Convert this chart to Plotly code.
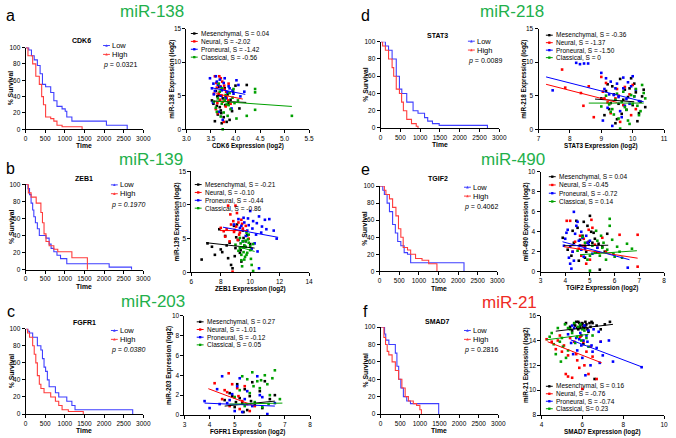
import plotly.graph_objects as go

W, H = 676, 438
FONT = "Liberation Sans, Arial, sans-serif"
KM_BLUE = "#3f3fff"
KM_RED = "#ff3c3c"
GROUP_COLORS = ["#000000", "#ff0000", "#0000ff", "#00a000"]
TITLE_GREEN = "#22b04b"
TITLE_RED = "#ee2a24"

# ---------------- Kaplan-Meier data (time, % survival) ----------------
A_LOW_T = [0, 80, 150, 220, 300, 370, 430, 510, 640, 720, 800, 930, 1010, 1050, 1180, 2060, 2590]
A_LOW_S = [100, 97, 90, 85, 78, 68, 55, 52, 45, 35, 28, 25, 22, 15, 10, 5, 0]
A_HIGH_T = [0, 60, 180, 260, 350, 410, 455, 510, 640, 720, 800, 930, 1440]
A_HIGH_S = [100, 90, 80, 65, 55, 40, 30, 15, 13, 10, 5, 3, 0]

B_LOW_T = [0, 60, 100, 140, 180, 210, 250, 300, 350, 520, 600, 650, 720, 800, 890, 1050, 2130, 2700]
B_LOW_S = [100, 95, 88, 78, 70, 62, 55, 48, 40, 37, 30, 25, 21, 17, 13, 7, 3, 0]
B_HIGH_T = [0, 70, 140, 270, 390, 430, 470, 520, 600, 720, 820, 1180, 1575]
B_HIGH_S = [100, 90, 85, 78, 67, 55, 42, 33, 28, 24, 21, 14, 0]

C_LOW_T = [0, 60, 100, 180, 300, 390, 430, 470, 510, 555, 600, 760, 845, 1050, 1180, 1260, 2730]
C_LOW_S = [100, 97, 95, 90, 80, 75, 65, 55, 50, 40, 32, 25, 20, 15, 10, 5, 0]
C_HIGH_T = [0, 50, 100, 180, 220, 260, 300, 350, 390, 470, 640, 760, 845, 930, 1090, 1470]
C_HIGH_S = [100, 95, 90, 80, 70, 60, 45, 35, 30, 25, 20, 15, 10, 5, 3, 0]

D_LOW_T = [0, 120, 200, 290, 395, 475, 535, 660, 820, 945, 1110, 1190, 1310, 1480, 2700]
D_LOW_S = [100, 95, 90, 80, 60, 45, 40, 30, 20, 17, 12, 8, 5, 3, 0]
D_HIGH_T = [0, 50, 120, 200, 290, 330, 395, 475, 530, 575, 660, 780, 900, 945]
D_HIGH_S = [100, 95, 90, 80, 70, 60, 45, 40, 30, 20, 10, 5, 2, 0]

E_LOW_T = [0, 80, 120, 190, 250, 330, 400, 460, 540, 625, 710, 790, 2150]
E_LOW_S = [100, 95, 90, 80, 70, 55, 45, 35, 30, 22, 20, 10, 0]
E_HIGH_T = [0, 120, 160, 250, 330, 415, 480, 540, 600, 710, 790, 915, 1080, 1250, 1460]
E_HIGH_S = [100, 95, 90, 85, 75, 65, 50, 40, 28, 25, 20, 15, 13, 9, 0]

F_LOW_T = [0, 100, 130, 210, 375, 415, 460, 515, 580, 665, 760, 1480]
F_LOW_S = [100, 92, 85, 80, 70, 55, 40, 30, 20, 15, 12, 0]
F_HIGH_T = [0, 83, 125, 167, 208, 292, 375, 458, 542, 625, 708, 833, 917, 1000, 1040]
F_HIGH_S = [100, 88, 80, 72, 68, 60, 50, 40, 30, 20, 15, 12, 10, 5, 0]

KM_GENES = ["CDK6", "ZEB1", "FGFR1", "STAT3", "TGIF2", "SMAD7"]
KM_PVALUES = ["0.0321", "0.1970", "0.0380", "0.0089", "0.4062", "0.2816"]
KM_P_ALL_ITALIC = [False, True, True, False, False, False]

# ---------------- Scatter data ----------------
GROUP_NAMES = ["Mesenchymal", "Neural", "Proneural", "Classical"]

# panel a : CDK6 vs miR-138
A_MES_X = [3.52, 3.58, 3.62, 3.66, 3.70, 3.74, 3.78, 3.82, 3.86, 3.90, 3.95, 4.00, 4.08, 4.23, 3.64, 3.72, 3.80, 3.60, 3.68, 3.88,
           3.55, 3.63, 3.71, 3.79, 3.84, 3.93, 3.67, 3.76]
A_MES_Y = [4.3, 1.2, 3.5, 5.1, 2.8, 4.6, 6.1, 1.1, 3.9, 4.4, 5.6, 6.5, 3.1, 6.6, 2.2, 0.9, 4.8, 5.7, 3.3, 1.4,
           3.8, 4.9, 2.4, 3.6, 5.2, 2.7, 6.3, 1.8]
A_NEU_X = [3.58, 3.62, 3.66, 3.70, 3.74, 3.60, 3.78, 3.82, 3.86, 3.64, 3.72, 3.90, 3.68, 3.76, 3.56, 3.80,
           3.61, 3.69, 3.73, 3.81, 3.85, 3.63, 3.77, 3.67]
A_NEU_Y = [7.9, 6.2, 5.4, 7.6, 4.1, 3.0, 5.9, 4.7, 6.8, 2.4, 5.0, 3.8, 4.4, 1.1, 5.3, 3.4,
           6.9, 6.4, 7.1, 5.6, 4.3, 3.9, 6.5, 7.9]
A_PRO_X = [3.48, 3.52, 3.56, 3.60, 3.64, 3.68, 3.72, 3.76, 3.80, 3.84, 3.88, 3.92, 3.96, 4.02, 4.10, 4.18, 3.54, 3.66, 3.74, 3.70,
           3.55, 3.62, 3.70, 3.78, 3.86, 3.94, 4.06, 3.58]
A_PRO_Y = [7.6, 6.1, 5.2, 7.9, 6.6, 7.4, 5.8, 6.9, 4.6, 5.5, 6.1, 3.1, 5.3, 7.3, 4.9, 5.6, 4.0, 2.6, 1.4, 5.0,
           6.8, 7.1, 6.3, 7.6, 6.4, 5.8, 6.6, 5.7]
A_CLA_X = [3.56, 3.62, 3.68, 3.72, 3.78, 3.84, 3.90, 3.96, 4.02, 3.74, 3.66, 3.80, 4.23, 4.40, 4.40, 4.40, 5.15, 3.86, 3.94, 3.70,
           3.60, 3.64, 3.76, 3.82, 3.88, 3.98, 4.05, 3.72]
A_CLA_Y = [4.1, 2.6, 5.6, 3.8, 4.4, 2.0, 3.0, 6.0, 1.6, 0.0, 6.8, 5.1, 2.0, 6.0, 5.5, 2.9, 2.0, 3.6, 4.7, 1.9,
           3.2, 4.6, 2.5, 3.7, 5.4, 3.9, 4.3, 6.1]
A_FIT_X = [[3.55, 4.22], [3.60, 4.15], [3.50, 4.20], [3.60, 5.15]]
A_FIT_Y = [[4.2, 4.0], [5.3, 4.5], [6.2, 5.2], [4.2, 3.4]]
A_S = ["0.04", "-2.02", "-1.42", "-0.56"]

# panel b : ZEB1 vs miR-139
B_MES_X = [6.7, 7.1, 7.6, 8.0, 8.3, 8.5, 8.7, 8.9, 9.0, 9.2, 9.3, 9.5, 9.6, 9.8, 10.0, 8.8, 9.1, 8.4, 9.4, 7.9,
           8.1, 8.6, 9.05, 9.35, 9.7, 8.95, 9.55, 7.4]
B_MES_Y = [1.9, 4.3, 2.6, 3.4, 5.4, 2.1, 1.1, 6.9, 3.6, 4.8, 2.9, 6.2, 3.9, 5.5, 4.2, 0.6, 7.1, 4.0, 1.6, 6.4,
           3.0, 4.4, 5.2, 3.3, 4.6, 2.4, 5.1, 3.8]
B_NEU_X = [8.0, 8.3, 8.5, 8.7, 8.9, 9.0, 9.1, 9.2, 9.3, 9.5, 9.7, 8.6, 8.8, 9.4, 8.2, 9.9,
           8.4, 8.65, 8.85, 9.05, 9.25, 9.45, 8.95, 9.15]
B_NEU_Y = [6.6, 5.3, 9.9, 7.1, 6.0, 9.9, 8.8, 7.4, 5.9, 6.5, 6.9, 4.6, 0.1, 7.8, 6.1, 5.0,
           6.4, 8.6, 7.6, 6.8, 5.6, 7.2, 6.3, 4.8]
B_PRO_X = [8.9, 9.2, 9.4, 9.6, 9.8, 10.0, 10.2, 10.4, 10.6, 10.8, 11.0, 11.3, 11.6, 11.8, 9.7, 10.1, 10.5, 9.5, 10.3, 10.6,
           9.3, 9.55, 9.9, 10.15, 10.45, 10.75, 11.1, 9.85]
B_PRO_Y = [7.1, 7.9, 6.9, 7.4, 6.2, 9.1, 7.6, 5.6, 8.3, 6.8, 7.8, 7.9, 6.2, 5.0, 5.4, 3.5, 3.1, 4.6, 4.3, 0.6,
           6.6, 8.1, 7.0, 6.5, 7.3, 5.9, 6.4, 8.0]
B_CLA_X = [9.0, 9.2, 9.3, 9.4, 9.5, 9.6, 9.7, 9.8, 9.9, 10.0, 10.1, 10.2, 9.45, 9.65, 9.85, 10.05, 9.3, 9.55, 10.2, 9.75,
           9.35, 9.5, 9.6, 9.75, 9.9, 10.0, 9.4, 9.7]
B_CLA_Y = [4.1, 3.2, 5.1, 2.6, 4.6, 1.9, 3.8, 2.9, 5.6, 3.3, 1.1, 4.2, 0.9, 2.3, 4.9, 2.0, 3.6, 3.0, 0.2, 5.9,
           4.3, 3.7, 4.0, 2.6, 4.4, 3.9, 1.8, 4.7]
B_FIT_X = [[7.0, 10.3], [7.95, 9.8], [8.15, 11.9], [9.2, 10.3]]
B_FIT_Y = [[4.4, 3.6], [6.2, 6.2], [6.7, 5.2], [3.8, 3.1]]
B_S = ["-0.21", "-0.10", "-0.44", "-0.86"]

# panel c : FGFR1 vs miR-203
C_MES_X = [4.6, 4.8, 5.0, 5.1, 5.2, 5.3, 5.4, 5.5, 5.6, 5.7, 5.8, 6.0, 6.2, 6.4, 6.6, 5.05, 5.35, 5.65, 4.9, 6.1]
C_MES_Y = [1.5, 2.2, 0.8, 3.1, 1.7, 1.2, 2.6, 0.5, 1.9, 3.3, 1.0, 2.4, 3.4, 1.6, 2.0, 1.3, 0.3, 1.4, 1.9, 0.7]
C_NEU_X = [4.2, 4.5, 4.7, 4.8, 4.9, 5.0, 5.1, 5.2, 5.3, 5.4, 5.5, 5.6, 4.76, 5.15, 5.8, 4.6]
C_NEU_Y = [3.2, 1.6, 2.3, 0.9, 3.1, 1.8, 2.7, 0.6, 1.4, 2.9, 1.1, 0.4, 4.2, 1.9, 0.9, 2.5]
C_PRO_X = [3.8, 4.0, 4.3, 4.5, 4.7, 4.9, 5.0, 5.2, 5.4, 5.5, 5.7, 5.9, 6.1, 6.3, 6.6, 4.8, 5.1, 5.3, 6.0, 4.4]
C_PRO_Y = [1.4, 0.7, 2.6, 3.9, 1.2, 2.1, 0.4, 3.7, 1.6, 2.4, 0.9, 3.9, 1.8, 0.1, 1.2, 1.5, 2.9, 0.3, 2.0, 1.1]
C_CLA_X = [5.0, 5.2, 5.4, 5.5, 5.6, 5.7, 5.8, 5.9, 6.0, 6.1, 6.2, 6.3, 6.4, 6.5, 6.6, 6.8, 5.3, 5.75, 6.05, 6.35]
C_CLA_Y = [1.8, 2.5, 0.9, 3.6, 2.2, 4.3, 1.3, 3.4, 2.7, 0.8, 4.0, 3.1, 2.0, 3.7, 4.5, 1.6, 3.9, 2.9, 3.5, 1.1]
C_FIT_X = [[4.6, 6.6], [3.95, 5.8], [3.8, 6.6], [4.8, 6.9]]
C_FIT_Y = [[0.9, 1.4], [2.65, 0.9], [1.2, 0.9], [1.1, 1.2]]
C_S = ["0.27", "-1.01", "-0.12", "0.05"]

# panel d : STAT3 vs miR-218
D_MES_X = [9.0, 9.1, 9.2, 9.3, 9.4, 9.5, 9.6, 9.7, 9.8, 9.9, 10.0, 10.1, 10.2, 10.3, 10.4, 9.45, 9.75, 9.95, 10.15, 9.25,
           9.15, 9.55, 9.85, 10.05, 10.35, 9.65, 9.35, 10.25]
D_MES_Y = [4.6, 2.1, 6.7, 3.9, 5.2, 1.5, 7.5, 4.4, 2.9, 6.1, 3.6, 5.5, 2.4, 4.9, 3.3, 0.9, 5.9, 7.6, 1.2, 3.0,
           5.7, 3.8, 4.8, 6.8, 5.9, 2.3, 6.4, 4.1]
D_NEU_X = [7.75, 7.85, 8.35, 8.43, 8.6, 8.76, 9.0, 9.1, 9.3, 9.5, 9.7, 9.9, 10.0, 9.2, 9.6, 10.1,
           9.05, 9.45, 9.75, 9.95, 9.15, 9.55]
D_NEU_Y = [8.9, 6.2, 5.4, 3.5, 6.4, 1.8, 7.8, 4.6, 2.4, 6.0, 3.6, 5.2, 6.6, 4.0, 1.1, 3.0,
           5.6, 4.6, 6.3, 2.1, 6.9, 5.0]
D_PRO_X = [7.45, 8.2, 8.32, 8.45, 8.58, 9.0, 9.1, 9.2, 9.3, 9.4, 9.5, 9.6, 9.7, 9.8, 9.9, 10.0, 10.1, 10.2, 9.35, 9.65, 9.05, 9.75,
           9.15, 9.45, 9.55, 9.85, 9.95, 10.05, 9.25, 9.7]
D_PRO_Y = [5.8, 9.9, 9.7, 9.8, 9.8, 8.4, 6.0, 3.2, 7.1, 5.1, 6.8, 2.7, 7.7, 4.5, 3.8, 7.9, 5.9, 4.2, 0.5, 1.8, 1.3, 3.5,
           7.6, 6.1, 4.8, 7.0, 6.4, 4.9, 5.2, 6.1]
D_CLA_X = [9.0, 9.15, 9.3, 9.45, 9.55, 9.7, 9.8, 9.9, 10.0, 10.1, 10.2, 10.3, 10.4, 9.6, 9.85, 10.05, 9.35, 10.25,
           9.25, 9.5, 9.65, 9.75, 9.95, 10.15, 10.35, 9.4]
D_CLA_Y = [3.4, 5.0, 2.6, 4.4, 1.6, 5.6, 2.9, 0.8, 3.8, 6.0, 2.1, 6.6, 4.6, 0.1, 1.3, 4.9, 3.0, 2.7,
           3.7, 5.3, 4.1, 3.3, 5.1, 3.5, 5.4, 2.2]
D_FIT_X = [[8.8, 10.05], [7.24, 9.5], [7.24, 10.35], [8.6, 10.35]]
D_FIT_Y = [[4.5, 4.1], [6.7, 4.0], [7.8, 4.1], [3.9, 3.9]]
D_S = ["-0.36", "-1.37", "-1.50", "0"]

# panel e : TGIF2 vs miR-490
E_MES_X = [3.9, 4.1, 4.3, 4.45, 4.6, 4.7, 4.8, 4.9, 5.0, 5.1, 5.2, 5.3, 5.5, 5.7, 4.55, 4.85, 5.05, 4.25, 5.4, 4.75,
           4.35, 4.6, 4.8, 4.95, 5.15, 5.35, 4.5, 5.6]
E_MES_Y = [3.4, 2.2, 4.1, 5.1, 2.6, 3.6, 1.4, 4.6, 5.6, 2.9, 3.3, 1.9, 2.5, 3.8, 1.1, 2.0, 4.0, 1.6, 0.2, 5.0,
           2.9, 3.2, 2.6, 3.0, 3.9, 2.8, 4.4, 2.0]
E_NEU_X = [4.06, 4.2, 4.4, 4.55, 4.65, 4.75, 4.85, 4.95, 5.06, 5.2, 5.35, 5.5, 6.2, 6.93, 6.93, 4.8, 5.0, 5.65,
           4.3, 4.6, 4.9, 5.1, 4.7, 5.3]
E_NEU_Y = [5.1, 5.1, 3.0, 2.3, 1.6, 3.3, 0.8, 4.2, 5.2, 2.7, 1.9, 3.4, 3.7, 3.7, 0.5, 2.4, 1.2, 2.0,
           2.0, 3.6, 2.9, 4.4, 2.6, 2.4]
E_PRO_X = [3.95, 4.05, 4.15, 4.25, 4.35, 4.45, 4.55, 4.65, 4.75, 4.85, 4.95, 5.1, 5.3, 6.53, 4.2, 4.5, 4.7, 4.3, 4.9, 4.1,
           4.0, 4.2, 4.4, 4.6, 4.8, 5.0, 4.35, 4.65]
E_PRO_Y = [2.6, 3.9, 1.4, 0.3, 6.0, 4.6, 3.1, 2.2, 1.5, 3.6, 2.7, 1.8, 2.4, 0.4, 0.8, 5.0, 3.4, 2.0, 2.9, 4.2,
           3.3, 2.5, 3.8, 2.6, 2.3, 3.1, 1.1, 4.0]
E_CLA_X = [4.5, 4.7, 4.9, 5.1, 5.25, 5.4, 5.55, 5.7, 5.8, 5.8, 5.95, 6.1, 6.3, 6.5, 6.7, 5.0, 5.3, 6.0,
           4.8, 5.2, 5.45, 5.65, 5.9, 6.2, 5.0, 5.5]
E_CLA_Y = [2.1, 3.5, 1.2, 2.6, 4.1, 1.6, 2.9, 2.2, 5.3, 4.6, 1.8, 2.5, 1.4, 2.8, 2.3, 0.1, 3.1, 1.5,
           2.9, 1.9, 3.6, 1.2, 3.2, 2.0, 1.6, 2.4]
E_FIT_X = [[3.95, 5.74], [3.95, 6.93], [3.89, 6.6], [4.6, 6.9]]
E_FIT_Y = [[2.6, 2.65], [2.5, 1.35], [3.0, 1.2], [1.7, 2.1]]
E_S = ["0.04", "-0.45", "-0.72", "0.14"]

# panel f : SMAD7 vs miR-21
F_MES_X = [5.2, 5.4, 5.5, 5.6, 5.7, 5.8, 5.9, 6.0, 6.1, 6.2, 6.3, 6.4, 6.5, 6.7, 6.9, 7.1, 7.35, 5.95, 6.05, 6.15, 6.6, 5.75,
           5.65, 5.85, 6.05, 6.25, 6.45, 6.0, 5.9, 6.35, 6.15, 5.8]
F_MES_Y = [15.4, 15.1, 14.8, 15.3, 15.5, 14.9, 15.2, 15.4, 15.0, 15.3, 14.7, 15.1, 15.4, 15.2, 14.9, 15.3, 15.5, 14.4, 13.7, 15.5, 10.9, 15.0,
           15.2, 15.4, 15.1, 14.9, 15.5, 15.3, 15.0, 15.4, 15.2, 15.5]
F_NEU_X = [4.25, 4.5, 4.7, 4.9, 5.1, 5.19, 5.3, 5.5, 5.6, 5.75, 5.9, 6.0, 6.1, 6.3, 6.5, 6.7, 6.9, 5.4, 5.85, 6.2,
           4.8, 5.0, 5.7, 6.4, 5.3, 6.05]
F_NEU_Y = [14.1, 13.9, 13.3, 14.4, 13.6, 11.3, 12.8, 11.0, 13.9, 12.4, 14.3, 10.1, 12.0, 11.3, 12.7, 10.9, 13.9, 14.2, 11.8, 13.1,
           14.0, 13.1, 12.9, 13.5, 11.1, 13.9]
F_PRO_X = [5.3, 5.45, 5.6, 5.75, 5.9, 6.0, 6.1, 6.25, 6.4, 6.55, 6.7, 6.85, 7.0, 7.3, 7.5, 8.9, 5.55, 5.85, 6.15, 6.45, 6.8,
           5.7, 5.95, 6.2, 6.5, 6.3, 6.05, 5.5, 6.9]
F_PRO_Y = [14.5, 13.8, 15.0, 13.2, 14.6, 12.6, 15.2, 13.9, 12.0, 14.9, 13.4, 12.2, 12.8, 14.0, 12.3, 11.85, 12.9, 14.1, 11.2, 13.6, 14.7,
           14.2, 13.6, 14.4, 13.1, 14.8, 14.0, 15.2, 13.9]
F_CLA_X = [4.4, 4.6, 4.8, 5.0, 5.15, 5.3, 5.5, 5.65, 5.8, 5.95, 6.1, 6.3, 6.5, 4.7, 5.2, 5.6, 6.0, 4.9,
           4.5, 5.05, 5.4, 5.75, 6.2, 5.3, 5.9, 4.95]
F_CLA_Y = [14.3, 13.7, 15.0, 14.2, 15.3, 13.2, 14.6, 13.8, 15.1, 14.0, 14.8, 13.5, 14.4, 12.9, 12.6, 15.4, 14.9, 13.9,
           14.6, 13.5, 14.9, 14.3, 14.2, 15.0, 15.3, 12.3]
F_FIT_X = [[4.7, 7.5], [4.3, 6.95], [5.43, 8.95], [4.23, 6.3]]
F_FIT_Y = [[14.75, 15.3], [13.9, 12.2], [14.05, 11.85], [14.05, 14.5]]
F_S = ["0.16", "-0.76", "-0.74", "0.23"]

MIR_NAMES = ["miR-138", "miR-139", "miR-203", "miR-218", "miR-490", "miR-21"]
PANEL_LETTERS = ["a", "b", "c", "d", "e", "f"]

# ---------------- layout geometry (pixels) ----------------
KM_BOX = [  # x0, x1, y_bottom, y_top
    (21, 141, 127.3, 44.3), (21, 141, 270, 183.3), (21, 141, 416.7, 330),
    (383, 504, 126, 38.3), (382, 502, 271.7, 185), (383, 503, 416.7, 328.3)]
SC_BOX = [
    (185, 310, 127.3, 25), (190, 310, 272.7, 170), (183, 311, 417.7, 316.7),
    (544, 672, 127.3, 25), (546, 672, 272, 170.7), (547, 672, 417.7, 316.7)]
SC_RANGES = [((3.0, 5.5), 0.5, (0, 15), 5), ((6, 14), 2, (0, 15), 5), ((3, 8), 1, (0, 10), 2),
             ((7, 11), 1, (0, 15), 5), ((3, 8), 1, (0, 10), 2), ((4, 10), 2, (8, 16), 2)]
MIR_POS = [(150, 8), (149, 158), (151, 302), (517, 8), (518, 158), (514, 303)]
LETTER_POS = [(6, 12), (6, 167), (6, 313), (368, 12), (368, 168), (368, 313)]
KM_TITLE_POS = [(78, 37), (81, 177), (81, 324), (441, 32), (441, 177), (441, 323)]
KM_LEG_POS = [(100, 42.2), (108, 183.8), (108, 331.8), (472, 37.8), (468, 186.2), (468, 331.8)]
SC_LEG_POS = [(193, 30), (197, 183.5), (199, 323), (555, 31.7), (558, 175.5), (555, 388.5)]
SC_LEG_STEP = [8, 8, 7.8, 7.6, 8.4, 7.6]

fig = go.Figure()
annotations = []
shapes = []


def px_x(p):
    return p / W


def px_y(p):
    return 1 - p / H


def ann(x, y, text, size, color="black", xanchor="center", yanchor="middle", angle=0):
    annotations.append(dict(x=px_x(x), y=px_y(y), xref="paper", yref="paper", text=text,
                            showarrow=False, xanchor=xanchor, yanchor=yanchor, textangle=angle,
                            borderpad=0, font=dict(size=size, color=color, family=FONT)))


axis_n = [0]


def make_axes(box, xr, xd, yr, yd, xfmt=None):
    axis_n[0] += 1
    n = axis_n[0]
    sfx = "" if n == 1 else str(n)
    common = dict(showline=True, linecolor="black", linewidth=1, ticks="outside", ticklen=3,
                  tickwidth=1, tickcolor="black", showgrid=False, zeroline=False,
                  tickfont=dict(size=6.5, family=FONT, color="black"), fixedrange=True)
    x0, x1, yb, yt = box
    fig.update_layout({
        "xaxis" + sfx: dict(domain=[px_x(x0), px_x(x1)], range=list(xr), dtick=xd, tick0=xr[0],
                            anchor="y" + sfx, tickformat=xfmt, **common),
        "yaxis" + sfx: dict(domain=[px_y(yb), px_y(yt)], range=list(yr), dtick=yd, tick0=yr[0],
                            anchor="x" + sfx, **common),
    })
    return "x" + sfx, "y" + sfx


KM_DATA = [(A_LOW_T, A_LOW_S, A_HIGH_T, A_HIGH_S), (B_LOW_T, B_LOW_S, B_HIGH_T, B_HIGH_S),
           (C_LOW_T, C_LOW_S, C_HIGH_T, C_HIGH_S), (D_LOW_T, D_LOW_S, D_HIGH_T, D_HIGH_S),
           (E_LOW_T, E_LOW_S, E_HIGH_T, E_HIGH_S), (F_LOW_T, F_LOW_S, F_HIGH_T, F_HIGH_S)]
SC_DATA = [
    ((A_MES_X, A_MES_Y), (A_NEU_X, A_NEU_Y), (A_PRO_X, A_PRO_Y), (A_CLA_X, A_CLA_Y), A_FIT_X, A_FIT_Y, A_S),
    ((B_MES_X, B_MES_Y), (B_NEU_X, B_NEU_Y), (B_PRO_X, B_PRO_Y), (B_CLA_X, B_CLA_Y), B_FIT_X, B_FIT_Y, B_S),
    ((C_MES_X, C_MES_Y), (C_NEU_X, C_NEU_Y), (C_PRO_X, C_PRO_Y), (C_CLA_X, C_CLA_Y), C_FIT_X, C_FIT_Y, C_S),
    ((D_MES_X, D_MES_Y), (D_NEU_X, D_NEU_Y), (D_PRO_X, D_PRO_Y), (D_CLA_X, D_CLA_Y), D_FIT_X, D_FIT_Y, D_S),
    ((E_MES_X, E_MES_Y), (E_NEU_X, E_NEU_Y), (E_PRO_X, E_PRO_Y), (E_CLA_X, E_CLA_Y), E_FIT_X, E_FIT_Y, E_S),
    ((F_MES_X, F_MES_Y), (F_NEU_X, F_NEU_Y), (F_PRO_X, F_PRO_Y), (F_CLA_X, F_CLA_Y), F_FIT_X, F_FIT_Y, F_S),
]

for i in range(6):
    # ---------- KM panel ----------
    box = KM_BOX[i]
    xr, yr = make_axes(box, (0, 3000), 500, (0, 100), 20)
    lt, ls, ht, hs = KM_DATA[i]
    fig.add_trace(go.Scatter(x=lt, y=ls, mode="lines", line=dict(color=KM_BLUE, width=1.1, shape="hv"),
                             xaxis=xr, yaxis=yr, cliponaxis=False, hoverinfo="skip"))
    fig.add_trace(go.Scatter(x=ht, y=hs, mode="lines", line=dict(color=KM_RED, width=1.1, shape="hv"),
                             xaxis=xr, yaxis=yr, cliponaxis=False, hoverinfo="skip"))
    x0, x1, yb, yt = box
    ann((x0 + x1) / 2, yb + 17, "<b>Time</b>", 6.8)
    ann(x0 - 15, (yb + yt) / 2, "<b>% Survival</b>", 6.8, angle=-90)
    tx, ty = KM_TITLE_POS[i]
    ann(tx, ty, "<b>" + KM_GENES[i] + "</b>", 7)
    lx, ly = KM_LEG_POS[i]
    for k, (lab, col) in enumerate([("Low", KM_BLUE), ("High", KM_RED)]):
        yy = ly + 9 * k
        shapes.append(dict(type="line", xref="paper", yref="paper", x0=px_x(lx), x1=px_x(lx + 7),
                           y0=px_y(yy), y1=px_y(yy), line=dict(color=col, width=1)))
        shapes.append(dict(type="path", xref="paper", yref="paper",
                           path="M {:.5f} {:.5f} L {:.5f} {:.5f} L {:.5f} {:.5f} Z".format(
                               px_x(lx + 2.2), px_y(yy + 1.2), px_x(lx + 4.8), px_y(yy + 1.2),
                               px_x(lx + 3.5), px_y(yy - 1.4)),
                           line=dict(width=0), fillcolor=col))
        ann(lx + 8.5, yy, lab, 7.5, xanchor="left")
    if KM_P_ALL_ITALIC[i]:
        ptxt = "<i>p = " + KM_PVALUES[i] + "</i>"
    else:
        ptxt = "<i>p</i> = " + KM_PVALUES[i]
    ann(lx + 17, ly + 20, ptxt, 7)

    # ---------- scatter panel ----------
    sbox = SC_BOX[i]
    (sxr, sxd, syr, syd) = SC_RANGES[i]
    xa, ya = make_axes(sbox, sxr, sxd, syr, syd, xfmt=".1f" if i == 0 else None)
    groups = SC_DATA[i][:4]
    fx, fy, svals = SC_DATA[i][4], SC_DATA[i][5], SC_DATA[i][6]
    for g in range(4):
        gx, gy = groups[g]
        fig.add_trace(go.Scatter(x=gx, y=gy, mode="markers",
                                 marker=dict(color=GROUP_COLORS[g], size=2.6, symbol="square"),
                                 xaxis=xa, yaxis=ya, cliponaxis=False, hoverinfo="skip"))
    for g in range(4):
        fig.add_trace(go.Scatter(x=fx[g], y=fy[g], mode="lines",
                                 line=dict(color=GROUP_COLORS[g], width=1),
                                 xaxis=xa, yaxis=ya, hoverinfo="skip"))
    sx0, sx1, syb, syt = sbox
    gene = KM_GENES[i]
    ann((sx0 + sx1) / 2, syb + 17, "<b>" + gene + " Expression (log2)</b>", 6.3)
    ann(sx0 - 15, (syb + syt) / 2, "<b>" + MIR_NAMES[i] + " Expression (log2)</b>", 6.3, angle=-90)
    gx0, gy0 = SC_LEG_POS[i]
    for g in range(4):
        yy = gy0 + SC_LEG_STEP[i] * g
        shapes.append(dict(type="line", xref="paper", yref="paper", x0=px_x(gx0 - 3.5), x1=px_x(gx0 + 3.5),
                           y0=px_y(yy), y1=px_y(yy), line=dict(color=GROUP_COLORS[g], width=1)))
        shapes.append(dict(type="rect", xref="paper", yref="paper", x0=px_x(gx0 - 1.2), x1=px_x(gx0 + 1.2),
                           y0=px_y(yy - 1.2), y1=px_y(yy + 1.2), line=dict(width=0),
                           fillcolor=GROUP_COLORS[g]))
        sep = "S= " if (i == 5 and g == 3) else "S = "
        ann(gx0 + 5.5, yy, GROUP_NAMES[g] + ", " + sep + svals[g], 6.5, xanchor="left")

    # ---------- headings ----------
    mx, my = MIR_POS[i]
    ann(mx, my, MIR_NAMES[i], 17, color=TITLE_RED if i == 5 else TITLE_GREEN)
    lx_, ly_ = LETTER_POS[i]
    ann(lx_, ly_, PANEL_LETTERS[i], 16)

fig.update_layout(width=W, height=H, margin=dict(l=0, r=0, t=0, b=0), autosize=False,
                  paper_bgcolor="white", plot_bgcolor="white", showlegend=False,
                  annotations=annotations, shapes=shapes, font=dict(family=FONT))

fig.write_html("out.html", config={"displayModeBar": False},
               post_script="document.body.style.margin='0';document.body.style.overflow='hidden';")
